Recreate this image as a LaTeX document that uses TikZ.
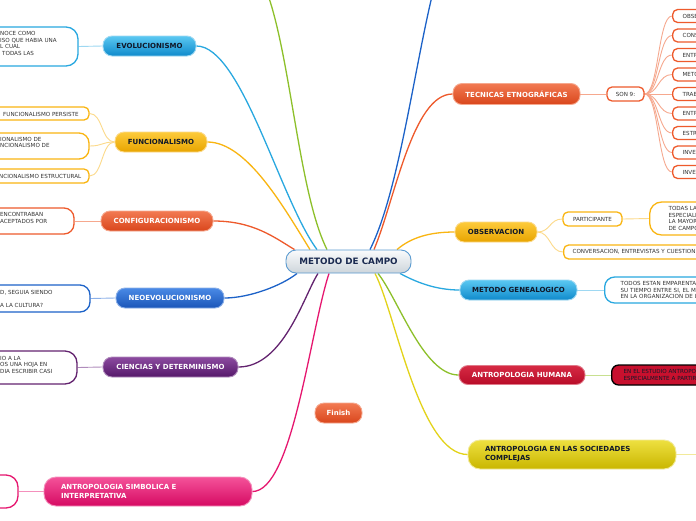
\documentclass[tikz,border=0pt]{standalone}
\usepackage{fontspec}
\setmainfont{DejaVu Sans}
\pgfdeclarelayer{bg}
\pgfsetlayers{bg,main}
\definecolor{cBlueL}{HTML}{29A8E0}
\definecolor{cYel}{HTML}{F9B511}
\definecolor{cOr}{HTML}{EE5A2C}
\definecolor{cBlue}{HTML}{1C62C8}
\definecolor{cPur}{HTML}{63236F}
\definecolor{cPink}{HTML}{E6176F}
\definecolor{cGreen}{HTML}{8DC02A}
\definecolor{cRed}{HTML}{C8102E}
\definecolor{cYel2}{HTML}{E3D31A}
\definecolor{evolT}{HTML}{5BC8F2}\definecolor{evolB}{HTML}{0F8ACB}\definecolor{evolL}{HTML}{9ED8F2}
\definecolor{funcT}{HTML}{FDCB3B}\definecolor{funcB}{HTML}{E8A400}\definecolor{funcL}{HTML}{FCDA8A}
\definecolor{orT}{HTML}{F27A52}\definecolor{orB}{HTML}{D9461C}\definecolor{orL}{HTML}{F6A88E}
\definecolor{neoT}{HTML}{4A8AE6}\definecolor{neoB}{HTML}{1A55B8}\definecolor{neoL}{HTML}{8CB0E8}
\definecolor{purT}{HTML}{8C4BA0}\definecolor{purB}{HTML}{55186A}\definecolor{purL}{HTML}{B08CBC}
\definecolor{pinkT}{HTML}{F4529A}\definecolor{pinkB}{HTML}{D60A62}\definecolor{pinkL}{HTML}{F490BC}
\definecolor{redT}{HTML}{D62A44}\definecolor{redB}{HTML}{B80C28}\definecolor{redL}{HTML}{E07A8A}
\definecolor{socT}{HTML}{EEE040}\definecolor{socB}{HTML}{C9B600}\definecolor{socL}{HTML}{F2EA9A}
\definecolor{greenL}{HTML}{C8E090}
\definecolor{cenT}{HTML}{FAFBFC}\definecolor{cenBot}{HTML}{CDD5DB}\definecolor{cenB}{HTML}{5B9BD0}
\definecolor{cenTxt}{HTML}{1A2A50}
\definecolor{dtxt}{HTML}{101828}
\definecolor{stxt}{HTML}{333333}
\begin{document}
\begin{tikzpicture}[x=1pt,y=-1pt,
  mbox/.style={rounded corners=9pt, inner sep=0pt, line width=0.9pt, font=\fontsize{7}{9}\selectfont\bfseries},
  cbox/.style={rounded corners=10pt, inner sep=0pt, line width=0.9pt, font=\fontsize{8.8}{10}\selectfont\bfseries},
  sbox/.style={draw=#1, rounded corners=5pt, inner sep=0pt, line width=1.3pt, fill=white, font=\fontsize{5.6}{6.5}\selectfont, text=stxt},
  stext/.style={font=\fontsize{5.6}{6.5}\selectfont, inner sep=0pt, align=left, anchor=west, text=stxt},
  mline/.style={line width=1.3pt, draw=#1},
  sline/.style={line width=0.9pt, draw=#1},
]
\useasboundingbox (0,0) rectangle (696,520);

% central topic
\node[cbox, draw=cenB, top color=cenT, bottom color=cenBot, text=cenTxt, minimum width=125pt, minimum height=23pt] (center) at (348.5,261.5) {METODO DE CAMPO};

% left main topics
\node[mbox, draw=evolL, top color=evolT, bottom color=evolB, text=dtxt, minimum width=93pt, minimum height=20pt] (evol) at (149.5,46) {EVOLUCIONISMO};
\node[mbox, draw=funcL, top color=funcT, bottom color=funcB, text=dtxt, minimum width=92pt, minimum height=20pt] (func) at (161,142) {FUNCIONALISMO};
\node[mbox, draw=orL, top color=orT, bottom color=orB, text=white, minimum width=112pt, minimum height=20pt] (config) at (157,221) {CONFIGURACIONISMO};
\node[mbox, draw=neoL, top color=neoT, bottom color=neoB, text=white, minimum width=108pt, minimum height=20pt] (neo) at (170,298) {NEOEVOLUCIONISMO};
\node[mbox, draw=purL, top color=purT, bottom color=purB, text=white, minimum width=135pt, minimum height=20pt] (cien) at (170.5,367) {CIENCIAS Y DETERMINISMO};
\node[mbox, rounded corners=12pt, draw=pinkL, top color=pinkT, bottom color=pinkB, text=white, minimum width=208pt, minimum height=29pt, inner xsep=17pt, text width=174pt, align=left] (simb) at (148,491.5) {ANTROPOLOGIA SIMBOLICA E\\INTERPRETATIVA};
\node[mbox, draw=orL, top color=orT, bottom color=orB, text=white, minimum width=47pt, minimum height=20pt] (finish) at (338.5,413) {Finish};

% right main topics
\node[mbox, draw=orL, top color=orT, bottom color=orB, text=white, minimum width=127pt, minimum height=21pt] (tec) at (516.5,94) {TECNICAS ETNOGRÁFICAS};
\node[mbox, draw=funcL, top color=funcT, bottom color=funcB, text=dtxt, minimum width=82pt, minimum height=20pt] (obs) at (496,232) {OBSERVACION};
\node[mbox, draw=evolL, top color=evolT, bottom color=evolB, text=dtxt, minimum width=117pt, minimum height=20pt] (met) at (518.5,290) {METODO GENEALOGICO};
\node[mbox, draw=redL, top color=redT, bottom color=redB, text=white, minimum width=126pt, minimum height=19pt] (hum) at (522,375) {ANTROPOLOGIA HUMANA};
\node[mbox, rounded corners=12pt, draw=socL, top color=socT, bottom color=socB, text=dtxt, minimum width=208pt, minimum height=29pt, inner xsep=17pt, text width=174pt, align=left] (soc) at (572,454.5) {ANTROPOLOGIA EN LAS SOCIEDADES\\COMPLEJAS};

% left sub boxes
\node[sbox=cBlueL, rounded corners=12pt, minimum width=118pt, minimum height=39pt] (evolc) at (19,46.5) {};
\node[stext] (evolt) at (0,43.7) {NOCE COMO\\ISO QUE HABIA UNA\\L CUAL\\\hspace*{2pt}TODAS LAS};
\node[sbox=cYel, minimum width=129pt, minimum height=13pt] (funcc1) at (24.5,113.5) {};
\node[stext] (funct1) at (3,114) {FUNCIONALISMO PERSISTE};
\node[sbox=cYel, rounded corners=10pt, minimum width=129pt, minimum height=26pt] (funcc2) at (24.5,146) {};
\node[stext] (funct2) at (0,142.5) {IONALISMO DE\\NCIONALISMO DE};
\node[sbox=cYel, minimum width=129pt, minimum height=14pt] (funcc3) at (24.5,176) {};
\node[stext] (funct3) at (-1,176) {NCIONALISMO ESTRUCTURAL};
\node[sbox=cOr, rounded corners=10pt, minimum width=114pt, minimum height=26pt] (confc) at (17,221) {};
\node[stext] (conft) at (0,218) {ENCONTRABAN\\ACEPTADOS POR};
\node[sbox=cBlue, rounded corners=10pt, minimum width=130pt, minimum height=27pt] (neoc) at (25,298.5) {};
\node[stext] (neot) at (0,298.5) {D, SEGUIA SIENDO\\~\\A LA CULTURA?};
\node[sbox=cPur, rounded corners=12pt, minimum width=117pt, minimum height=33pt] (cienc) at (18.5,367.5) {};
\node[stext] (cient) at (0,364.5) {IO A LA\\OS UNA HOJA EN\\DIA ESCRIBIR CASI};
\node[sbox=cPink, rounded corners=12pt, minimum width=58pt, minimum height=33pt] (simbc) at (-11,491.5) {};

% right sub boxes
\node[sbox=cOr, minimum width=37pt, minimum height=14pt] (son9) at (625.5,94) {SON 9:};
\foreach \t [count=\i from 0] in {OBSE,CONS,ENTR,METO,TRAB,ENTR,ESTR,INVES,INVES}{
  \node[sbox=cOr, anchor=west, minimum height=13pt, inner xsep=10pt, text width=70pt, align=left] (s\i) at (672,{16+19.5*\i}) {\t};
}
\node[sbox=cYel, minimum width=59pt, minimum height=14pt] (partc) at (592.5,219) {PARTICIPANTE};
\node[sbox=cYel, rounded corners=12pt, anchor=west, minimum height=33pt, inner xsep=19pt, text width=62pt, align=left] (partcc) at (649,218.5) {TODAS LA\\ESPECIALI\\LA MAYOR\\DE CAMPO};
\node[sbox=cYel, anchor=west, minimum height=14pt, inner xsep=9pt, text width=180pt, align=left] (conv) at (563,252) {CONVERSACION, ENTREVISTAS Y CUESTION};
\node[sbox=cBlueL, rounded corners=10pt, anchor=west, minimum height=26pt, inner xsep=16pt, text width=120pt, align=left] (metc) at (604,290) {TODOS ESTAN EMPARENTA\\SU TIEMPO ENTRE SI, EL M\\EN LA ORGANIZACION DE L};
\node[sbox=black, fill=cRed, text=dtxt, rounded corners=7pt, anchor=west, minimum height=20pt, inner xsep=12pt, text width=120pt, align=left] (humc) at (611,375) {EN EL ESTUDIO ANTROPO\\ESPECIALMENTE A PARTIR};

\coordinate (topG) at (262,-20);
\coordinate (topB) at (436,-20);
\coordinate (socend) at (700,454.5);

\begin{pgfonlayer}{bg}
\fill[white] (0,0) rectangle (696,520);
% main connectors
\draw[mline=cBlueL] (evol.east) .. controls +(45,0) and +(-37,-50) .. ([xshift=-31.5pt]center.north);
\draw[mline=cYel] (func.east) .. controls +(40,0) and +(-25,-40) .. ([xshift=-38.5pt]center.north);
\draw[mline=cOr] (config.east) .. controls +(40,0) and +(-20,-12) .. ([xshift=-54pt]center.north);
\draw[mline=cGreen] ([xshift=-21.5pt]center.north) .. controls +(-30,-60) and +(28,60) .. (topG);
\draw[mline=cBlue] ([xshift=21.5pt]center.north) .. controls +(30,-60) and +(-21,80) .. (topB);
\draw[mline=cOr] ([xshift=25.5pt]center.north) .. controls +(21,-50) and +(-40,0) .. (tec.west);
\draw[mline=cYel] ([xshift=48.5pt]center.north) .. controls +(14,-12) and +(-25,0) .. (obs.west);
\draw[mline=cBlueL] ([xshift=51.5pt]center.south) .. controls +(15,8) and +(-25,0) .. (met.west);
\draw[mline=cGreen] ([xshift=29.5pt]center.south) .. controls +(20,25) and +(-35,0) .. (hum.west);
\draw[mline=cYel2] ([xshift=26.5pt]center.south) .. controls +(20,38) and +(-48,0) .. (soc.west);
\draw[mline=cBlue] ([xshift=-51.5pt]center.south) .. controls +(-15,12) and +(25,0) .. (neo.east);
\draw[mline=cPur] ([xshift=-30.5pt]center.south) .. controls +(-14,22) and +(45,0) .. (cien.east);
\draw[mline=cPink] ([xshift=-19.5pt]center.south) .. controls +(-19,58) and +(40,0) .. (simb.east);
% sub connectors
\draw[sline=evolL] (evolc.east) -- (evol.west);
\foreach \c in {funcc1,funcc2,funcc3}{
  \draw[sline=funcL] (func.west) .. controls +(-13,0) and +(13,0) .. (\c.east);
}
\draw[sline=orL] (confc.east) -- (config.west);
\draw[sline=neoL] (neoc.east) -- (neo.west);
\draw[sline=purL] (cienc.east) -- (cien.west);
\draw[sline=pinkL] (simbc.east) -- (simb.west);
\draw[sline=orL] (tec.east) -- (son9.west);
\foreach \i in {0,...,8}{
  \draw[sline=orL] (son9.east) .. controls +(14,0) and +(-14,0) .. (s\i.west);
}
\draw[sline=funcL] (obs.east) .. controls +(13,0) and +(-13,0) .. (partc.west);
\draw[sline=funcL] (obs.east) .. controls +(13,0) and +(-13,0) .. (conv.west);
\draw[sline=funcL] (partc.east) -- (partcc.west);
\draw[sline=evolL] (met.east) -- (metc.west);
\draw[sline=greenL] (hum.east) -- (humc.west);
\draw[sline=socL] (soc.east) -- (socend);
\end{pgfonlayer}
\end{tikzpicture}
\end{document}
